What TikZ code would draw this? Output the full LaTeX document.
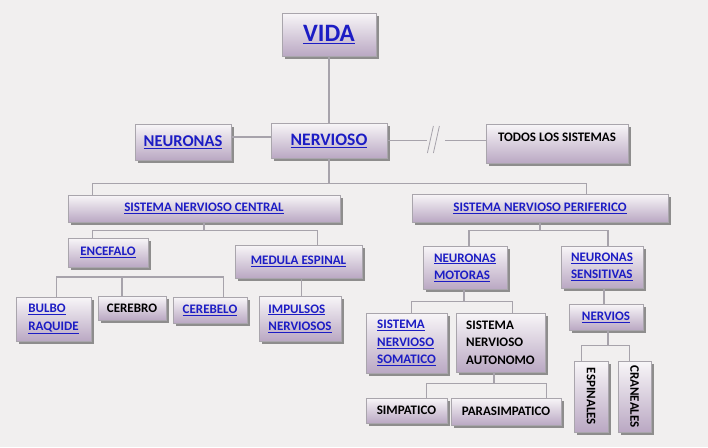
\documentclass[tikz,border=0pt]{standalone}
\usepackage{fontspec}
\setmainfont{Carlito}
\usepackage{graphicx}
\usepackage{xcolor}
\usetikzlibrary{shadows}
\definecolor{pagebg}{HTML}{F1EFEF}
\definecolor{boxtop}{HTML}{F8F6F8}
\definecolor{boxbot}{HTML}{BAA8C3}
\definecolor{boxline}{HTML}{A9A5AC}
\definecolor{wire}{HTML}{A7A3AB}
\definecolor{linkblue}{HTML}{1C1CC4}
\newcommand{\lnk}[1]{\textcolor{linkblue}{\underline{#1}}}

\begin{document}
\begin{tikzpicture}[x=1pt, y=-1pt,
  box/.style={draw=boxline, line width=0.8pt, top color=boxtop,
    bottom color=boxbot, inner sep=2pt, align=left,
    font=\bfseries\fontsize{13}{17.3}\selectfont,
    drop shadow={shadow xshift=2.5pt, shadow yshift=-2.5pt,
      fill=black!70, opacity=0.6}},
  boxsize/.style 2 args={minimum width=#1pt, minimum height=#2pt},
  link/.style={draw=wire, line width=1.1pt}]
  \fill[pagebg] (0,0) rectangle (708,447);
  \useasboundingbox (0,0) rectangle (708,447);

  % Top level
  \node[box, boxsize={94}{43}, font=\bfseries\fontsize{25}{28}\selectfont]
    (vida) at (329,34.5) {\lnk{VIDA}};
  \node[box, boxsize={96}{36}, font=\bfseries\fontsize{16.5}{20}\selectfont]
    (neuronas) at (183,142) {\lnk{NEURONAS}};
  \node[box, boxsize={116}{35}, font=\bfseries\fontsize{17.5}{20}\selectfont]
    (nervioso) at (329,140.5) {\lnk{NERVIOSO}};
  \node[box, boxsize={142}{39}, text height=8pt, text depth=13pt]
    (todos) at (557,143.5) {TODOS LOS SISTEMAS};

  % Central and peripheral
  \node[box, boxsize={272}{27}] (snc) at (204,208.5)
    {\lnk{SISTEMA NERVIOSO CENTRAL}};
  \node[box, boxsize={256}{28}] (snp) at (540,208)
    {\lnk{SISTEMA NERVIOSO PERIFERICO}};

  % Central branch
  \node[box, boxsize={80}{29}] (encefalo) at (108,252.5) {\lnk{ENCEFALO}};
  \node[box, boxsize={127}{33}] (medula) at (298.5,261.5)
    {\lnk{MEDULA ESPINAL}};
  \node[box, boxsize={75}{44}] (bulbo) at (53.5,319)
    {\lnk{BULBO}\\\lnk{RAQUIDE}};
  \node[box, boxsize={68}{24}] (cerebro) at (132,308) {CEREBRO};
  \node[box, boxsize={74}{26}] (cerebelo) at (210,310) {\lnk{CEREBELO}};
  \node[box, boxsize={82}{45}] (impulsos) at (300,318.5)
    {\lnk{IMPULSOS}\\\lnk{NERVIOSOS}};

  % Peripheral branch
  \node[box, boxsize={84}{43}] (motoras) at (465,267.5)
    {\lnk{NEURONAS}\\\lnk{MOTORAS}};
  \node[box, boxsize={82}{42}] (sensitivas) at (602,267)
    {\lnk{NEURONAS}\\\lnk{SENSITIVAS}};
  \node[box, boxsize={81}{60}] (somatico) at (406.5,343)
    {\lnk{SISTEMA}\\\lnk{NERVIOSO}\\\lnk{SOMATICO}};
  \node[box, boxsize={89}{59}] (autonomo) at (500.5,342.5)
    {SISTEMA\\NERVIOSO\\AUTONOMO};
  \node[box, boxsize={81}{25}] (simpatico) at (406.5,410.5) {SIMPATICO};
  \node[box, boxsize={110}{27}] (parasimpatico) at (506,411.5)
    {PARASIMPATICO};
  \node[box, boxsize={74}{26}] (nervios) at (606,317) {\lnk{NERVIOS}};
  \node[box, boxsize={34}{71}] (espinales) at (591,396.5)
    {\rotatebox{-90}{ESPINALES}};
  \node[box, boxsize={33}{71}] (craneales) at (634.5,396.5)
    {\rotatebox{-90}{CRANEALES}};

  % Connectors
  \draw[link] (vida) -- (nervioso);
  \draw[link] ([yshift=5pt]neuronas.east) -- ([yshift=5pt]neuronas.east -| nervioso.west);
  \draw[link] (nervioso.east) -- ++(40,0) coordinate (cutL);
  \draw[link] (nervioso.east -| todos.west) -- ++(-41,0) coordinate (cutR);
  \draw[link, line width=0.8pt] (cutL) ++(6,-14.5) -- ++(-6,27);
  \draw[link, line width=0.8pt] (cutL) ++(12,-14.5) -- ++(-6,27);

  \draw[link] (nervioso.south) -- ++(0,25) -| ([xshift=25pt]snc.north west);
  \draw[link] (nervioso.south) -- ++(0,25) -| ([xshift=175pt]snp.north west);

  \draw[link] (snc.south) -- ++(0,8) -| ([xshift=25pt]encefalo.north west);
  \draw[link] (snc.south) -- ++(0,8) -| ([xshift=83pt]medula.north west);

  \coordinate (encbus) at (122,277);
  \draw[link] ([xshift=41pt]bulbo.north west) |- (encbus)
    -| ([xshift=51pt]cerebelo.north west);
  \draw[link] (encbus) -- (encbus |- cerebro.north);
  \draw[link] ([xshift=3pt]medula.south) -- ([xshift=3pt]medula.south |- impulsos.north);

  \draw[link] (snp.south) -- ++(0,8) -| ([xshift=4pt]motoras.north);
  \draw[link] (snp.south) -- ++(0,8) -| ([xshift=6pt]sensitivas.north);
  \draw[link] ([xshift=-1pt]motoras.south) -- ++(0,12) -| ([xshift=46pt]somatico.north west);
  \draw[link] ([xshift=-1pt]motoras.south) -- ++(0,12) -| ([xshift=57pt]autonomo.north west);
  \draw[link] ([xshift=-6.5pt]autonomo.south) -- ++(0,11) -| ([xshift=61pt]simpatico.north west);
  \draw[link] ([xshift=-6.5pt]autonomo.south) -- ++(0,11) -| ([xshift=96pt]parasimpatico.north west);
  \draw[link] ([xshift=2pt]sensitivas.south) -- ([xshift=2pt]sensitivas.south |- nervios.north);
  \draw[link] ([xshift=2pt]nervios.south) -- ++(0,15) -| ([xshift=8pt]espinales.north west);
  \draw[link] ([xshift=2pt]nervios.south) -- ++(0,15) -| ([xshift=12pt]craneales.north west);
\end{tikzpicture}
\end{document}
